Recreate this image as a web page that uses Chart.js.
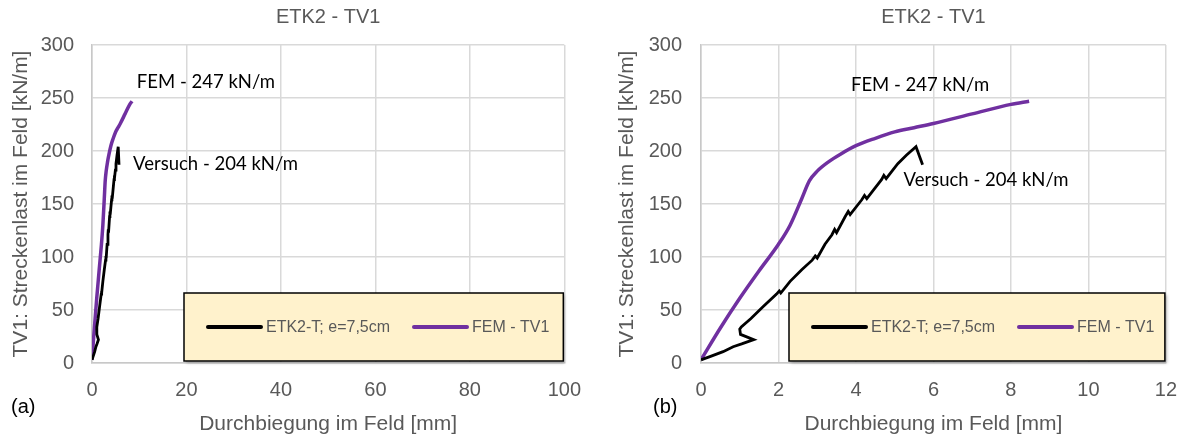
<!DOCTYPE html>
<html>
<head>
<meta charset="utf-8">
<script src="https://cdn.jsdelivr.net/npm/chart.js@4.4.1/dist/chart.umd.min.js"></script>
<style>
  html, body { margin: 0; padding: 0; background: #ffffff; }
  #wrap { position: relative; width: 1192px; height: 439px; overflow: hidden; }
  .panel { position: absolute; top: 0; width: 596px; height: 439px; }
</style>
</head>
<body>
<div id="wrap">
  <div class="panel" style="left:0"><canvas id="chartA" width="596" height="439"></canvas></div>
  <div class="panel" style="left:596px"><canvas id="chartB" width="596" height="439"></canvas></div>
</div>
<script>
// ---- texts ----
const chartTitle = 'ETK2 - TV1';
const xAxisTitle = 'Durchbiegung im Feld [mm]';
const yAxisTitle = 'TV1: Streckenlast im Feld [kN/m]';
const seriesNames = ['ETK2-T; e=7,5cm', 'FEM - TV1'];
const noteFem = 'FEM - 247 kN/m';
const noteVersuch = 'Versuch - 204 kN/m';

// ---- test curve (Versuch): deflection [mm] / line load [kN/m] ----
const versuchDefl = [0, 0.23, 0.57, 0.83, 1.05, 1.36, 1.02, 1.0, 1.04, 1.29, 1.6, 1.95, 2.02, 2.06, 2.3, 2.6, 2.87, 2.95, 3.0, 3.2, 3.38, 3.45, 3.5, 3.72, 3.8, 3.85, 4.15, 4.22, 4.28, 4.45, 4.66, 4.72, 4.78, 4.95, 5.08, 5.3, 5.55, 5.72];
const versuchLoad = [3, 6, 10.7, 15.4, 18, 22, 27, 32, 34, 42, 53, 65, 68, 66, 77, 88, 97, 101, 99, 112, 121, 126, 123, 138, 143, 140, 154, 158, 155, 163, 173, 177, 174, 182, 188, 196, 204, 187];

// ---- FEM curve ----
const femDefl = [0, 0.5, 1.0, 1.5, 2.0, 2.3, 2.6, 2.8, 3.0, 3.3, 3.6, 4.0, 4.5, 5.0, 5.5, 6.0, 7.0, 8.0, 8.47];
const femLoad = [3, 33, 61, 87, 112, 130, 155, 172, 181, 190, 197, 205, 212, 218, 222, 226, 235, 244, 247];

// ---- axis ticks ----
const yTicks = [0, 50, 100, 150, 200, 250, 300];
const xTicksA = [0, 20, 40, 60, 80, 100];
const xTicksB = [0, 2, 4, 6, 8, 10, 12];

const seriesColors = ['#000000', '#7030a0'];
const GREY = '#595959';
const SANS = "'Liberation Sans', Arial, sans-serif";

function toPoints(xs, ys) {
  return xs.map((x, i) => ({ x: x, y: ys[i] }));
}

// Panel decorations: tag "(a)/(b)", value notes and the boxed legend
const panelDecor = {
  id: 'panelDecor',
  afterDraw(chart, args, o) {
    const ctx = chart.ctx;
    const area = chart.chartArea;
    const xs = chart.scales.x, ys = chart.scales.y;
    ctx.save();

    // value notes
    ctx.font = o.noteFont;
    ctx.fillStyle = '#000000';
    ctx.textAlign = 'left';
    ctx.textBaseline = 'middle';
    o.notes.forEach(n => {
      ctx.fillText(n.text, xs.getPixelForValue(n.x), ys.getPixelForValue(n.y));
    });

    // panel tag
    ctx.font = '20px ' + SANS;
    ctx.fillText(o.tag, o.tagX, o.tagY);

    // legend box
    const bl = area.left + o.boxLeft;
    const br = area.right - o.boxRightGap;
    const bt = area.bottom - o.boxTopOff;
    const bb = area.bottom - o.boxBottomGap;
    ctx.shadowColor = 'rgba(0,0,0,0.25)';
    ctx.shadowBlur = 3;
    ctx.shadowOffsetX = 2;
    ctx.shadowOffsetY = 2;
    ctx.fillStyle = '#fff2cc';
    ctx.fillRect(bl, bt, br - bl, bb - bt);
    ctx.shadowColor = 'transparent';
    ctx.lineWidth = 1.5;
    ctx.strokeStyle = '#000000';
    ctx.strokeRect(bl, bt, br - bl, bb - bt);

    const ly = bt + 34;
    ctx.font = '16px ' + SANS;
    ctx.lineWidth = 4;
    ctx.lineCap = 'round';
    chart.data.datasets.forEach((ds, i) => {
      const x0 = bl + o.legendItems[i];
      ctx.strokeStyle = ds.borderColor;
      ctx.beginPath();
      ctx.moveTo(x0, ly);
      ctx.lineTo(x0 + 53, ly);
      ctx.stroke();
      ctx.fillStyle = GREY;
      ctx.fillText(ds.label, x0 + 58, ly + 1);
    });
    ctx.restore();
  }
};

function makePanel(id, cfg) {
  return new Chart(document.getElementById(id), {
    type: 'scatter',
    data: {
      datasets: [
        {
          label: seriesNames[0],
          data: toPoints(versuchDefl, versuchLoad),
          showLine: true,
          borderColor: seriesColors[0],
          backgroundColor: seriesColors[0],
          borderWidth: 2.8,
          pointRadius: 0,
          tension: 0
        },
        {
          label: seriesNames[1],
          data: toPoints(femDefl, femLoad),
          showLine: true,
          borderColor: seriesColors[1],
          backgroundColor: seriesColors[1],
          borderWidth: 3.5,
          pointRadius: 0,
          cubicInterpolationMode: 'monotone'
        }
      ]
    },
    options: {
      responsive: false,
      animation: false,
      devicePixelRatio: 1,
      layout: { padding: { left: 0, right: cfg.padRight, top: 0, bottom: 0 } },
      plugins: {
        legend: { display: false },
        tooltip: { enabled: false },
        title: {
          display: true,
          fullSize: false,
          text: chartTitle,
          color: GREY,
          font: { family: SANS, size: 20, weight: 'normal' },
          padding: { top: 5, bottom: 16 }
        },
        panelDecor: cfg.decor
      },
      scales: {
        x: {
          type: 'linear',
          min: 0,
          max: cfg.xTicks[cfg.xTicks.length - 1],
          afterBuildTicks(scale) { scale.ticks = cfg.xTicks.map(v => ({ value: v })); },
          afterFit(scale) { scale.height = 76; },
          grid: { color: '#d9d9d9', lineWidth: 1.5, drawTicks: false },
          border: { color: '#c8c8c8', width: 1.5 },
          ticks: { color: GREY, font: { family: SANS, size: 20 }, padding: 15, maxRotation: 0 },
          title: {
            display: true,
            text: xAxisTitle,
            color: GREY,
            font: { family: SANS, size: 21 },
            padding: { top: 0, bottom: 2.4 }
          }
        },
        y: {
          type: 'linear',
          min: 0,
          max: 300,
          afterBuildTicks(scale) { scale.ticks = yTicks.map(v => ({ value: v })); },
          afterFit(scale) { scale.width = cfg.yWidth; },
          grid: { color: '#d9d9d9', lineWidth: 1.5, drawTicks: false },
          border: { color: '#c8c8c8', width: 1.5 },
          ticks: { color: GREY, font: { family: SANS, size: 20 }, padding: cfg.yTickPad },
          title: {
            display: true,
            text: yAxisTitle,
            color: GREY,
            font: { family: SANS, size: 21 },
            padding: { top: cfg.yTitlePad, bottom: 0 }
          }
        }
      }
    },
    plugins: [panelDecor]
  });
}

makePanel('chartA', {
  xTicks: xTicksA,
  padRight: 29,
  yWidth: 92,
  yTickPad: 18,
  yTitlePad: 8.4,
  decor: {
    noteFont: "18.5px Lato, 'Open Sans', sans-serif",
    notes: [
      { text: noteFem, x: 9.5, y: 265 },
      { text: noteVersuch, x: 8.7, y: 188 }
    ],
    tag: '(a)', tagX: 11, tagY: 407,
    boxLeft: 92, boxRightGap: 1, boxTopOff: 70, boxBottomGap: 2,
    legendItems: [24, 230]
  }
});

makePanel('chartB', {
  xTicks: xTicksB,
  padRight: 21,
  yWidth: 105,
  yTickPad: 19,
  yTitlePad: 18.4,
  decor: {
    noteFont: "18.5px Lato, 'Open Sans', sans-serif",
    notes: [
      { text: noteFem, x: 3.87, y: 262 },
      { text: noteVersuch, x: 5.23, y: 172.6 }
    ],
    tag: '(b)', tagX: 57, tagY: 407,
    boxLeft: 88, boxRightGap: 1, boxTopOff: 70, boxBottomGap: 2,
    legendItems: [24, 230]
  }
});
</script>
</body>
</html>
